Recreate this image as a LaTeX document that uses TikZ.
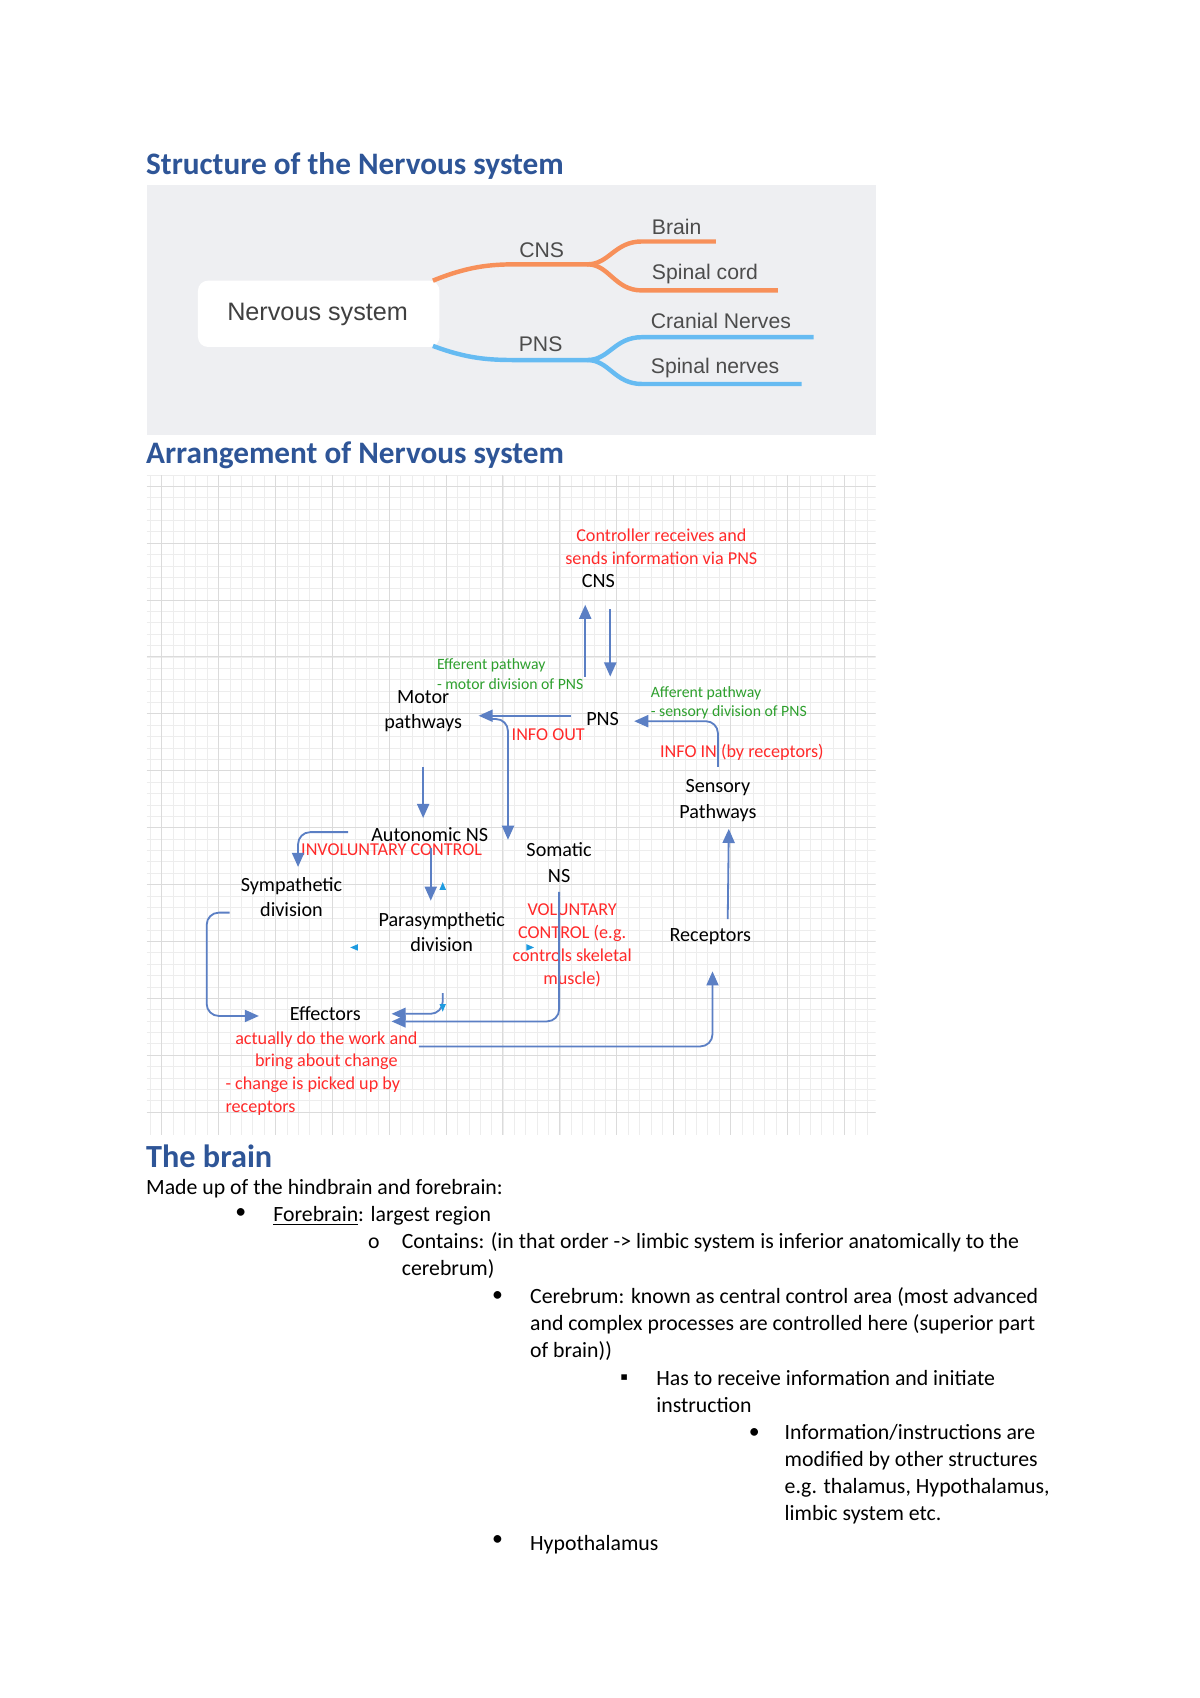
\documentclass[tikz,border=0pt]{standalone}
\usepackage{fontspec}
\setmainfont{Carlito}
\newfontfamily\arialf{Liberation Sans}
\usetikzlibrary{arrows.meta}
\definecolor{ttl}{HTML}{2E5597}
\definecolor{arr}{HTML}{5B7FC4}
\definecolor{rd}{HTML}{FF2A2A}
\definecolor{gr}{HTML}{2EA02E}
\definecolor{orng}{HTML}{F7905A}
\definecolor{lblue}{HTML}{66BBF2}
\definecolor{pgray}{HTML}{EEEFF2}
\definecolor{cy}{HTML}{1E9BE0}
\begin{document}
\begin{tikzpicture}[x=0.5394pt,y=-0.5394pt,
  every node/.style={inner sep=0pt},
  title/.style={anchor=west,text=ttl,font=\fontsize{15.5}{18}\selectfont\bfseries},
  body/.style={anchor=west,font=\fontsize{10.8}{13.4}\selectfont},
  lab/.style={align=center,font=\fontsize{10}{12.5}\selectfont},
  red/.style={align=center,text=rd,font=\fontsize{9}{11.3}\selectfont},
  grn/.style={align=left,text=gr,font=\fontsize{7.8}{9.8}\selectfont},
  ar/.style={draw=arr,line width=0.9pt,-{Triangle[length=7pt,width=6pt]},rounded corners=6pt},
  tri/.style={fill=cy},
  mind/.style={font=\arialf\fontsize{10.5}{12}\selectfont,text=black!70}]
\useasboundingbox (0,0) rectangle (1103,1561);
\fill[white] (0,0) rectangle (1103,1561);
% ---- title 1
\node[title] (t1) at (134,153) {Structure of the Nervous system};
\fill[pgray] (135,170) rectangle (805,400);
\fill[white,rounded corners=5pt] (182,258) rectangle (404,319);
\node[font=\arialf\fontsize{12.5}{14}\selectfont,text=black!75] (ns) at (292,289) {Nervous system};
\draw[orng,line width=2.2pt] (398,258) .. controls (430,245) and (450,243) .. (475,243) -- (540,243)
  .. controls (560,243) and (565,222) .. (590,222) -- (658,222);
\draw[orng,line width=2.2pt] (540,243) .. controls (560,243) and (565,267) .. (590,267) -- (715,267);
\draw[lblue,line width=2.2pt] (398,318) .. controls (430,330) and (450,331) .. (475,331) -- (540,331)
  .. controls (560,331) and (565,310) .. (590,310) -- (748,310);
\draw[lblue,line width=2.2pt] (540,331) .. controls (560,331) and (565,353) .. (590,353) -- (737,353);
\node[mind] (cns1) at (498,230) {CNS};
\node[mind] (pns1) at (497,316) {PNS};
\node[mind,anchor=west] (br) at (599,209) {Brain};
\node[mind,anchor=west] (sc) at (599,252) {Spinal cord};
\node[mind,anchor=west] (cn) at (598,295) {Cranial Nerves};
\node[mind,anchor=west] (sn) at (598,338) {Spinal nerves};
% ---- title 2
\node[title] (t2) at (134,419) {Arrangement of Nervous system};
\begin{scope}
\clip (135,437) rectangle (805,1043);
\foreach \i in {-5,...,70} {\draw[black!7,line width=0.3pt] (148.6+\i*10.46,437) -- ++(0,606);}
\foreach \i in {-10,...,60} {\draw[black!7,line width=0.3pt] (135,394.7+\i*10.46) -- ++(670,0);}
\foreach \i in {-1,...,13} {\draw[black!14,line width=0.5pt] (148.6+\i*52.3,437) -- ++(0,606);}
\foreach \i in {-1,...,12} {\draw[black!14,line width=0.5pt] (135,394.7+\i*52.3) -- ++(670,0);}
\end{scope}
% texts
\node[red] (ctrl) at (608,503) {Controller receives and\\sends information via PNS};
\node[lab] (cns) at (550,534) {CNS};
\node[grn] (eff) at (469,620) {Efferent pathway\\- motor division of PNS};
\node[lab] (mot) at (389,654) {Motor\\pathways};
\node[lab] (pns) at (554,661) {PNS};
\node[red] (iout) at (504,675) {INFO OUT};
\node[grn] (aff) at (670,646) {Afferent pathway\\- sensory division of PNS};
\node[red] (iin) at (682,692) {INFO IN (by receptors)};
\node[lab] (sens) at (660,736) {Sensory\\Pathways};
\node[lab] (auto) at (395,767) {Autonomic NS};
\node[red] (invol) at (360,781) {INVOLUNTARY CONTROL};
\node[lab] (symp) at (268,825) {Sympathetic\\division};
\node[lab] (para) at (406,857) {Parasympthetic\\division};
\node[lab] (som) at (514,793) {Somatic\\NS};
\node[red] (vol) at (526,869) {VOLUNTARY\\CONTROL (e.g.\\controls skeletal\\muscle)};
\node[lab] (rec) at (653,861) {Receptors};
\node[lab] (effs) at (299,932) {Effectors};
\node[red] (eftx) at (300,966) {actually do the work and\\bring about change};
\node[red,align=left,anchor=west] (eftx2) at (207,1008) {- change is picked up by\\receptors};
% arrows
\draw[ar] (538,622) -- (538,556);
\draw[ar] (561,560) -- (561,622);
\draw[ar] (525,658) -- (440,658);
\draw[ar] (450,661) -- (467,661) -- (467,772);
\draw[ar] (660,705) -- (660,663) -- (583,663);
\draw[ar] (389,705) -- (389,752);
\draw[ar] (320,765) -- (274,765) -- (274,797);
\draw[ar] (396,780) -- (396,828);
\draw[ar] (211,839) -- (190,839) -- (190,934) -- (238,934);
\draw[ar] (514,820) -- (514,939) -- (360,939);
\draw[ar] (407,913) -- (407,932) -- (360,932);
\draw[ar] (385,962) -- (655,962) -- (655,893);
\draw[ar] (669,845) -- (670,762);
\fill[tri] (404,818) -- (410,818) -- (407,811) -- cycle;
\fill[tri] (322,871) -- (329,868) -- (329,874) -- cycle;
\fill[tri] (491,871) -- (484,868) -- (484,874) -- cycle;
\fill[tri] (404,923) -- (410,923) -- (407,930) -- cycle;
% ---- the brain
\node[title,font=\fontsize{16}{18}\selectfont\bfseries] (t3) at (134,1063) {The brain};
\node[body] (l1) at (134,1093) {Made up of the hindbrain and forebrain:};
\node[body] (b1) at (216,1116) {•};
\node[body] (l2) at (251,1118) {\underline{Forebrain}: largest region};
\node[body] (b2) at (338,1143) {o};
\node[body,align=left,anchor=north west] (l3) at (369,1133) {Contains: (in that order -> limbic system is inferior anatomically to the\\cerebrum)};
\node[body] (b3) at (452,1192) {•};
\node[body,align=left,anchor=north west] (l4) at (487,1183) {Cerebrum: known as central control area (most advanced\\and complex processes are controlled here (superior part\\of brain))};
\node[body] (b4) at (570,1268) {▪};
\node[body,align=left,anchor=north west] (l5) at (603,1259) {Has to receive information and initiate\\instruction};
\node[body] (b5) at (688,1318) {•};
\node[body,align=left,anchor=north west] (l6) at (721,1309) {Information/instructions are\\modified by other structures\\e.g. thalamus, Hypothalamus,\\limbic system etc.};
\node[body] (b6) at (452,1416) {•};
\node[body] (l7) at (487,1420) {Hypothalamus};
\end{tikzpicture}
\end{document}
